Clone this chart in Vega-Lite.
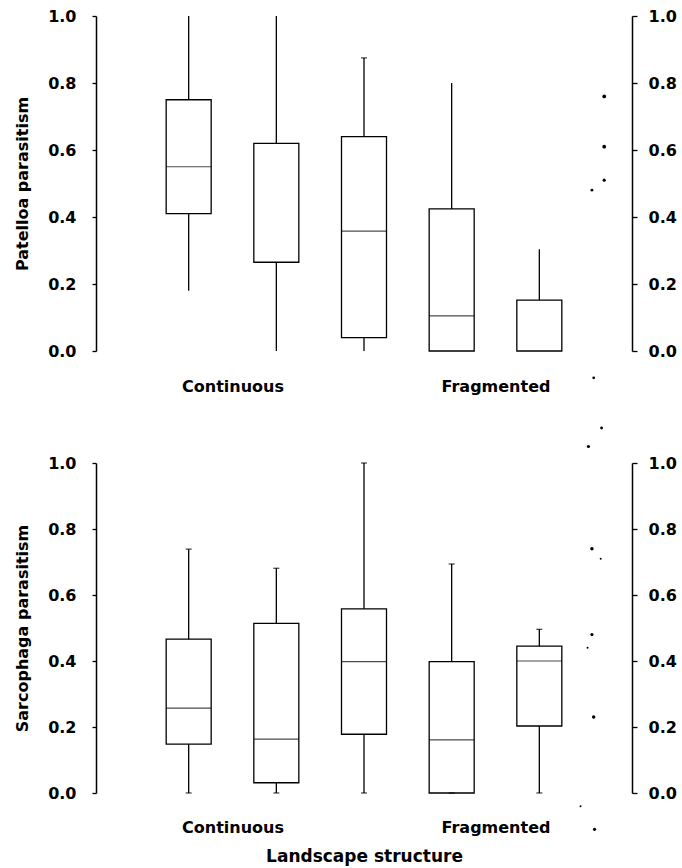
{
  "$schema": "https://vega.github.io/schema/vega-lite/v6.json",
  "padding": {"left": 14, "top": 8, "right": 2, "bottom": 2},
  "background": "white",
  "config": {
    "view": {"stroke": null},
    "font": "DejaVu Sans",
    "axis": {"grid": false, "domainColor": "black", "domainWidth": 1.5, "tickColor": "black", "tickWidth": 1.3, "labelColor": "black", "titleColor": "black", "labelFont": "DejaVu Sans", "titleFont": "DejaVu Sans", "labelFontWeight": "bold", "titleFontWeight": "bold", "labelFontSize": 16}
  },
  "datasets": {
    "patelloa": [
      {"pos": 1, "lower": 0.18, "q1": 0.41, "median": 0.55, "q3": 0.75, "upper": 1.0},
      {"pos": 2, "lower": 0.0, "q1": 0.265, "median": null, "q3": 0.62, "upper": 1.0},
      {"pos": 3, "lower": 0.0, "q1": 0.04, "median": 0.358, "q3": 0.64, "upper": 0.875},
      {"pos": 4, "lower": 0.0, "q1": 0.0, "median": 0.105, "q3": 0.424, "upper": 0.80},
      {"pos": 5, "lower": 0.0, "q1": 0.0, "median": null, "q3": 0.152, "upper": 0.304}
    ],
    "patelloaDots": [
      {"pos": 5.74, "value": 0.76, "size": 14},
      {"pos": 5.74, "value": 0.61, "size": 14},
      {"pos": 5.74, "value": 0.51, "size": 10},
      {"pos": 5.60, "value": 0.48, "size": 8},
      {"pos": 5.62, "value": -0.08, "size": 8}
    ],
    "sarcophaga": [
      {"pos": 1, "lower": 0.0, "q1": 0.148, "median": 0.257, "q3": 0.466, "upper": 0.739},
      {"pos": 2, "lower": 0.0, "q1": 0.031, "median": 0.163, "q3": 0.514, "upper": 0.681},
      {"pos": 3, "lower": 0.0, "q1": 0.178, "median": 0.398, "q3": 0.558, "upper": 1.0},
      {"pos": 4, "lower": 0.0, "q1": 0.0, "median": 0.161, "q3": 0.398, "upper": 0.694},
      {"pos": 5, "lower": 0.0, "q1": 0.203, "median": 0.4, "q3": 0.445, "upper": 0.496}
    ],
    "sarcophagaDots": [
      {"pos": 5.71, "value": 1.106, "size": 8},
      {"pos": 5.56, "value": 1.05, "size": 10},
      {"pos": 5.60, "value": 0.74, "size": 12},
      {"pos": 5.70, "value": 0.71, "size": 4},
      {"pos": 5.60, "value": 0.48, "size": 10},
      {"pos": 5.55, "value": 0.44, "size": 4},
      {"pos": 5.62, "value": 0.23, "size": 12},
      {"pos": 5.47, "value": -0.04, "size": 4},
      {"pos": 5.63, "value": -0.11, "size": 10}
    ]
  },
  "spacing": 32,
  "vconcat": [
    {
      "width": 536,
      "height": 335,
      "layer": [
        {
          "data": {"name": "patelloa"},
          "mark": {"type": "rule", "color": "black", "strokeWidth": 1.3},
          "encoding": {
            "x": {"field": "pos", "type": "quantitative", "scale": {"domain": [0, 6]}, "axis": {"values": [1.5, 4.5], "labelExpr": "datum.value < 3 ? 'Continuous' : 'Fragmented'", "domain": false, "ticks": false, "labelPadding": 27, "title": null}},
            "y": {"field": "lower", "type": "quantitative", "scale": {"domain": [0, 1], "nice": false}, "axis": {"orient": "left", "values": [0, 0.2, 0.4, 0.6, 0.8, 1.0], "format": ".1f", "tickSize": 4, "labelPadding": 16, "title": "Patelloa parasitism", "titleFontSize": 16, "titlePadding": 17}},
            "y2": {"field": "upper"}
          }
        },
        {
          "data": {"name": "patelloa"},
          "mark": {"type": "bar", "fill": "white", "stroke": "black", "strokeWidth": 1.3, "size": 45},
          "encoding": {
            "x": {"field": "pos", "type": "quantitative", "scale": {"domain": [0, 6]}},
            "y": {"field": "q1", "type": "quantitative", "axis": null},
            "y2": {"field": "q3"}
          }
        },
        {
          "data": {"name": "patelloa"},
          "transform": [{"filter": "datum.median != null"}],
          "mark": {"type": "tick", "orient": "horizontal", "color": "black", "size": 45, "thickness": 1.2, "strokeDash": [5, 3]},
          "encoding": {
            "x": {"field": "pos", "type": "quantitative", "scale": {"domain": [0, 6]}},
            "y": {"field": "median", "type": "quantitative", "axis": null}
          }
        },
        {
          "data": {"name": "patelloa"},
          "transform": [{"filter": "datum.pos == 3"}],
          "mark": {"type": "tick", "orient": "horizontal", "color": "black", "size": 6, "thickness": 1.3},
          "encoding": {
            "x": {"field": "pos", "type": "quantitative", "scale": {"domain": [0, 6]}},
            "y": {"field": "upper", "type": "quantitative", "axis": null}
          }
        },
        {
          "data": {"name": "patelloaDots"},
          "mark": {"type": "point", "filled": true, "color": "black", "opacity": 1},
          "encoding": {
            "x": {"field": "pos", "type": "quantitative", "scale": {"domain": [0, 6]}},
            "y": {"field": "value", "type": "quantitative", "axis": {"orient": "right", "values": [0, 0.2, 0.4, 0.6, 0.8, 1.0], "format": ".1f", "tickSize": 5, "labelPadding": 11, "title": null}},
            "size": {"field": "size", "type": "quantitative", "scale": null, "legend": null}
          }
        }
      ],
      "resolve": {"axis": {"y": "independent"}}
    },
    {
      "width": 536,
      "height": 330,
      "layer": [
        {
          "data": {"name": "sarcophaga"},
          "mark": {"type": "rule", "color": "black", "strokeWidth": 1.3},
          "encoding": {
            "x": {"field": "pos", "type": "quantitative", "scale": {"domain": [0, 6]}, "axis": {"values": [1.5, 4.5], "labelExpr": "datum.value < 3 ? 'Continuous' : 'Fragmented'", "domain": false, "ticks": false, "labelPadding": 26, "title": "Landscape structure", "titleFontSize": 17, "titlePadding": 13}},
            "y": {"field": "lower", "type": "quantitative", "scale": {"domain": [0, 1], "nice": false}, "axis": {"orient": "left", "values": [0, 0.2, 0.4, 0.6, 0.8, 1.0], "format": ".1f", "tickSize": 4, "labelPadding": 16, "title": "Sarcophaga parasitism", "titleFontSize": 16, "titlePadding": 17}},
            "y2": {"field": "upper"}
          }
        },
        {
          "data": {"name": "sarcophaga"},
          "mark": {"type": "bar", "fill": "white", "stroke": "black", "strokeWidth": 1.3, "size": 45},
          "encoding": {
            "x": {"field": "pos", "type": "quantitative", "scale": {"domain": [0, 6]}},
            "y": {"field": "q1", "type": "quantitative", "axis": null},
            "y2": {"field": "q3"}
          }
        },
        {
          "data": {"name": "sarcophaga"},
          "mark": {"type": "tick", "orient": "horizontal", "color": "black", "size": 45, "thickness": 1.2},
          "encoding": {
            "x": {"field": "pos", "type": "quantitative", "scale": {"domain": [0, 6]}},
            "y": {"field": "median", "type": "quantitative", "axis": null}
          }
        },
        {
          "data": {"name": "sarcophaga"},
          "mark": {"type": "tick", "orient": "horizontal", "color": "black", "size": 6, "thickness": 1.3},
          "encoding": {
            "x": {"field": "pos", "type": "quantitative", "scale": {"domain": [0, 6]}},
            "y": {"field": "upper", "type": "quantitative", "axis": null}
          }
        },
        {
          "data": {"name": "sarcophaga"},
          "mark": {"type": "tick", "orient": "horizontal", "color": "black", "size": 6, "thickness": 1.3},
          "encoding": {
            "x": {"field": "pos", "type": "quantitative", "scale": {"domain": [0, 6]}},
            "y": {"field": "lower", "type": "quantitative", "axis": null}
          }
        },
        {
          "data": {"name": "sarcophagaDots"},
          "mark": {"type": "point", "filled": true, "color": "black", "opacity": 1},
          "encoding": {
            "x": {"field": "pos", "type": "quantitative", "scale": {"domain": [0, 6]}},
            "y": {"field": "value", "type": "quantitative", "axis": {"orient": "right", "values": [0, 0.2, 0.4, 0.6, 0.8, 1.0], "format": ".1f", "tickSize": 5, "labelPadding": 11, "title": null}},
            "size": {"field": "size", "type": "quantitative", "scale": null, "legend": null}
          }
        }
      ],
      "resolve": {"axis": {"y": "independent"}}
    }
  ]
}
